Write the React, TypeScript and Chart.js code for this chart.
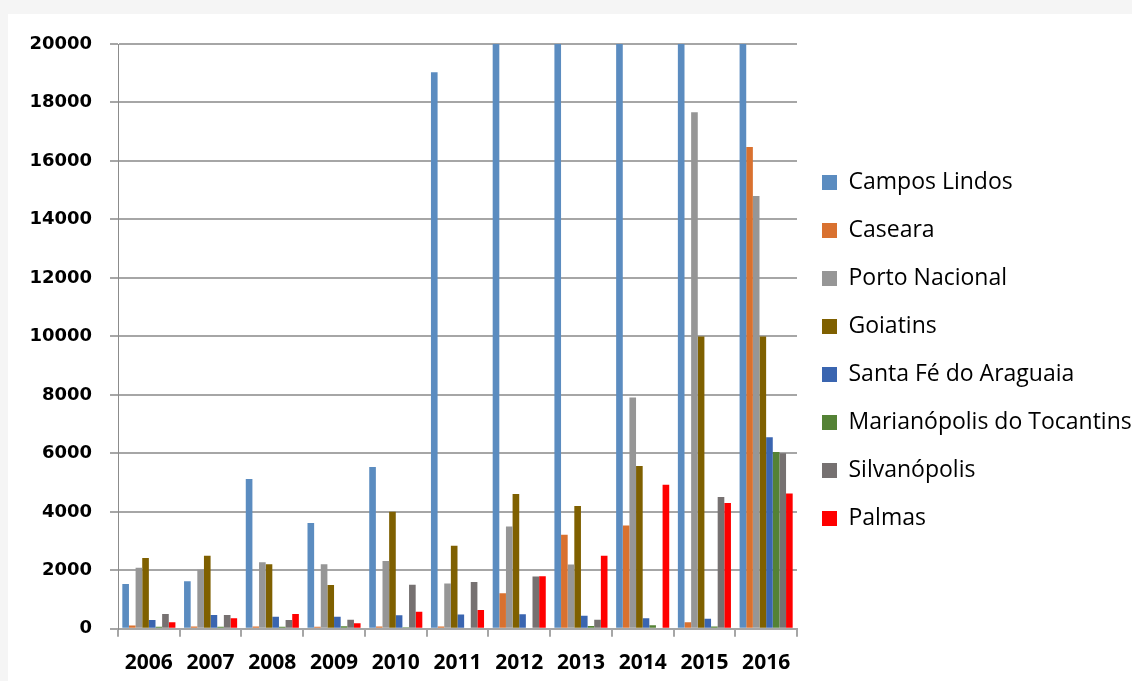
import React, { useEffect, useRef } from "react";
import { Chart, registerables } from "chart.js";

Chart.register(...registerables);

const years = ["2006", "2007", "2008", "2009", "2010", "2011", "2012", "2013", "2014", "2015", "2016"];

const camposLindos = [1530, 1630, 5120, 3620, 5530, 19030, 23000, 25000, 27000, 26000, 31000];
const caseara = [110, 80, 80, 70, 80, 80, 1220, 3220, 3530, 220, 16480];
const portoNacional = [2090, 2020, 2280, 2210, 2320, 1550, 3500, 2200, 7910, 17670, 14800];
const goiatins = [2420, 2500, 2210, 1500, 4000, 2840, 4610, 4200, 5570, 10000, 10000];
const santaFe = [300, 470, 410, 410, 460, 490, 500, 445, 365, 340, 6550];
const marianopolis = [70, 70, 70, 90, 50, 40, 40, 100, 125, 80, 6050];
const silvanopolis = [510, 470, 300, 310, 1510, 1600, 1790, 310, 0, 4510, 6000];
const palmas = [220, 365, 510, 190, 580, 640, 1800, 2500, 4930, 4300, 4630];

const seriesNames = [
  "Campos Lindos",
  "Caseara",
  "Porto Nacional",
  "Goiatins",
  "Santa Fé do Araguaia",
  "Marianópolis do Tocantins",
  "Silvanópolis",
  "Palmas",
];
const seriesValues = [camposLindos, caseara, portoNacional, goiatins, santaFe, marianopolis, silvanopolis, palmas];
const seriesColors = ["#5B8CC0", "#D9712F", "#969696", "#7F6000", "#3A65B0", "#548235", "#767171", "#FF0000"];

const yMin = 0;
const yMax = 20000;
const yStep = 2000;

export default function App() {
  const ref = useRef<HTMLCanvasElement>(null);

  useEffect(() => {
    const chart = new Chart(ref.current as HTMLCanvasElement, {
      type: "bar",
      data: {
        labels: years,
        datasets: seriesNames.map((name, i) => ({
          label: name,
          data: seriesValues[i],
          backgroundColor: seriesColors[i],
          borderWidth: 0,
          categoryPercentage: 0.86,
          barPercentage: 1,
        })),
      },
      options: {
        responsive: false,
        animation: false,
        layout: { padding: { top: 30, bottom: -9, left: 0, right: 0 } },
        plugins: {
          tooltip: { enabled: false },
          legend: {
            position: "right",
            align: "start",
            maxWidth: 335,
            title: {
              display: true,
              text: " ",
              font: { size: 10 },
              padding: { top: 90, bottom: 0 },
            },
            labels: {
              boxWidth: 15,
              boxHeight: 15,
              padding: 25,
              color: "#000000",
              font: { family: "'Open Sans', sans-serif", size: 23 },
            },
          },
        },
        scales: {
          x: {
            offset: true,
            grid: {
              offset: true,
              drawOnChartArea: false,
              drawTicks: true,
              tickLength: 8,
              color: "#A6A6A6",
              lineWidth: 2,
            },
            border: { display: true, color: "#A6A6A6", width: 2 },
            ticks: {
              color: "#000000",
              padding: 14,
              maxRotation: 0,
              font: { family: "'Open Sans', sans-serif", size: 21, weight: "bold" },
            },
          },
          y: {
            min: yMin,
            max: yMax,
            afterFit: (scale: any) => {
              scale.width = 110;
            },
            grid: {
              drawTicks: true,
              tickLength: 8,
              color: "#A6A6A6",
              lineWidth: 2,
            },
            border: { display: true, color: "#8C8C8C", width: 1 },
            ticks: {
              stepSize: yStep,
              color: "#000000",
              padding: 18,
              callback: (value: any) => String(value),
              font: { family: "'DejaVu Sans', sans-serif", size: 18, weight: "bold" },
            },
          },
        },
      },
    });
    return () => chart.destroy();
  }, []);

  return (
    <div style={{ position: "fixed", inset: 0, background: "#F5F5F5" }}>
      <div style={{ position: "absolute", left: 8, top: 14, right: 0, bottom: 0, background: "#FFFFFF" }}>
        <canvas ref={ref} width={1124} height={667} style={{ display: "block" }} />
      </div>
    </div>
  );
}
